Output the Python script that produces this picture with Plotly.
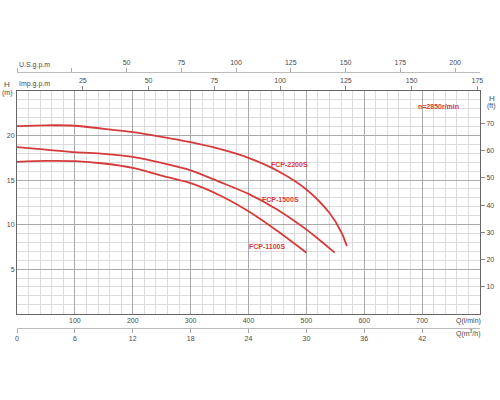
import plotly.graph_objects as go

# pump curves, Q in l/min, H in m
q_2200 = [0, 50, 100, 150, 200, 250, 300, 350, 400, 450, 500, 540, 560, 570]
h_2200 = [21.05, 21.15, 21.1, 20.76, 20.38, 19.86, 19.25, 18.5, 17.5, 16.05, 13.95, 11.3, 9.2, 7.6]

q_1500 = [0, 50, 100, 150, 200, 250, 300, 350, 400, 450, 500, 549]
h_1500 = [18.7, 18.43, 18.13, 17.95, 17.6, 16.93, 16.1, 14.8, 13.45, 11.68, 9.45, 6.85]

q_1100 = [0, 50, 100, 150, 200, 250, 300, 350, 400, 450, 500]
h_1100 = [17.05, 17.15, 17.12, 16.86, 16.37, 15.5, 14.65, 13.3, 11.5, 9.28, 6.85]

models = ['FCP-2200S', 'FCP-1500S', 'FCP-1100S']

q_ticks = [100, 200, 300, 400, 500, 600, 700]
h_ticks = [5, 10, 15, 20]
ft_ticks = [10, 20, 30, 40, 50, 60, 70]
imp_ticks = [25, 50, 75, 100, 125, 150, 175]
us_ticks = [50, 75, 100, 125, 150, 175, 200]
m3h_ticks = [0, 6, 12, 18, 24, 30, 36, 42]

Q_MAX = 800
H_MAX = 25
RED = '#d63a3a'
GREY = '#4a4a4a'
FONT = 'Liberation Sans'

W, H = 500, 400
ML, MR, MT, MB = 17, 20, 72, 72
PLOT_TOP, PLOT_BOT = 91, 313.7


def px(x):
    return (x - ML) / (W - ML - MR)


def py(y):
    return (H - MB - y) / (H - MT - MB)


fig = go.Figure()
for q, h, name in zip([q_2200, q_1500, q_1100], [h_2200, h_1500, h_1100], models):
    fig.add_trace(go.Scatter(x=q, y=h, mode='lines', name=name,
                             line=dict(color=RED, width=1.8, shape='spline', smoothing=0.8),
                             hoverinfo='skip'))

# empty traces so the unit-conversion axes get drawn
for xa, ya in [('x2', 'y'), ('x3', 'y'), ('x4', 'y'), ('x', 'y2')]:
    fig.add_trace(go.Scatter(x=[], y=[], xaxis=xa, yaxis=ya, showlegend=False, hoverinfo='skip'))

tickfont = dict(family=FONT, size=7, color=GREY)
fig.update_layout(
    template='none',
    width=W, height=H, showlegend=False,
    margin=dict(l=ML, r=MR, t=MT, b=MB),
    paper_bgcolor='white', plot_bgcolor='white',
    font=dict(family=FONT, size=7, color=GREY),
    xaxis=dict(range=[0, Q_MAX], tickvals=q_ticks, ticks='', tickfont=tickfont,
               automargin=False,
               showgrid=True, gridcolor='#aaa', gridwidth=1,
               minor=dict(dtick=20, tick0=0, showgrid=True, gridcolor='#dcdcdc', gridwidth=1),
               showline=True, linecolor='#666', linewidth=1, mirror=True, zeroline=False),
    yaxis=dict(range=[0, H_MAX], domain=[py(PLOT_BOT), py(PLOT_TOP)], tickvals=h_ticks,
               ticks='', tickfont=tickfont, automargin=False,
               showgrid=True, gridcolor='#aaa', gridwidth=1,
               minor=dict(dtick=1, tick0=0, showgrid=True, gridcolor='#dcdcdc', gridwidth=1),
               showline=True, linecolor='#666', linewidth=1, mirror=True, zeroline=False),
    xaxis2=dict(range=[0, Q_MAX / 4.546], overlaying='x', side='top', anchor='y',
                tickvals=imp_ticks, ticks='outside', ticklen=4, tickcolor='#888',
                tickfont=tickfont, showgrid=False, zeroline=False, showline=False,
                automargin=False),
    xaxis3=dict(range=[0, Q_MAX / 3.785], overlaying='x', side='top', anchor='free',
                position=1, tickvals=us_ticks, ticks='outside',
                ticklen=4, tickcolor='#aaa', tickfont=tickfont, showgrid=False,
                minor=dict(tick0=0, dtick=25, ticks='outside', ticklen=4, tickcolor='#aaa'),
                zeroline=False, showline=True, linecolor='#bbb', linewidth=1,
                automargin=False),
    xaxis4=dict(range=[0, Q_MAX * 0.06], overlaying='x', side='bottom', anchor='free',
                position=0, tickvals=m3h_ticks, ticks='outside', ticklen=4,
                tickcolor='#aaa', tickfont=tickfont, showgrid=False, zeroline=False,
                showline=True, linecolor='#bbb', linewidth=1, automargin=False),
    yaxis2=dict(range=[0, H_MAX * 3.2808], overlaying='y', side='right', anchor='x',
                tickvals=ft_ticks, ticks='outside', ticklen=4, tickcolor='#888',
                tickfont=tickfont, showgrid=False, zeroline=False, showline=False,
                automargin=False),
)

ann = [
    ('U.S.g.p.m', 17, 65, 'left', 7, GREY, False),
    ('Imp.g.p.m', 17, 84, 'left', 7, GREY, False),
    ('H', 7, 84, 'center', 8, GREY, False),
    ('(m)', 7, 93, 'center', 7, GREY, False),
    ('H', 492, 98, 'center', 8, GREY, False),
    ('(ft)', 492, 106, 'center', 7, GREY, False),
    ('Q(l/min)', 468, 321, 'center', 7, GREY, False),
    ('Q(m<sup>3</sup>/h)', 468, 333, 'center', 7, GREY, False),
    ('n=2850r/min', 438, 106, 'center', 7, RED, True),
    (models[0], 289, 164, 'center', 7, RED, True),
    (models[1], 280, 199, 'center', 7, RED, True),
    (models[2], 267, 246, 'center', 7, RED, True),
]
for text, x, y, align, size, color, bold in ann:
    fig.add_annotation(text='<b>%s</b>' % text if bold else text,
                       xref='paper', yref='paper', x=px(x), y=py(y),
                       xanchor=align, yanchor='middle', showarrow=False,
                       font=dict(family=FONT, size=size, color=color))

# page body has a default 8px margin; drop it so the figure sits at the window corner
fig.write_html('out.html', config={'displayModeBar': False},
               post_script="document.body.style.margin='0';")
